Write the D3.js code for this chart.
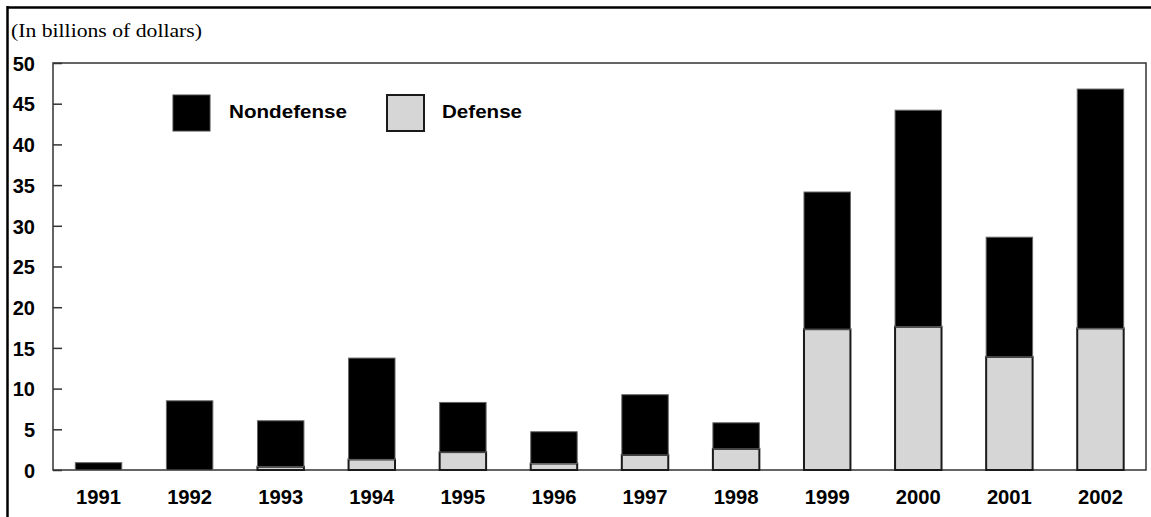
<!DOCTYPE html>
<html>
<head>
<meta charset="utf-8">
<script src="https://cdn.jsdelivr.net/npm/d3@7"></script>
<style>
  html, body { margin: 0; padding: 0; background: #fff; }
  svg { display: block; }
</style>
</head>
<body>
<svg id="chart" width="1151" height="517"></svg>
<script>
const years = ["1991","1992","1993","1994","1995","1996","1997","1998","1999","2000","2001","2002"];
const defense = [0, 0, 0.4, 1.3, 2.2, 0.8, 1.85, 2.6, 17.3, 17.6, 13.9, 17.4];
const nondefense = [0.9, 8.5, 5.65, 12.45, 6.1, 3.9, 7.4, 3.2, 16.85, 26.6, 14.7, 29.4];
const yTicks = [0, 5, 10, 15, 20, 25, 30, 35, 40, 45, 50];
const seriesNames = ["Nondefense", "Defense"];
const unitLabel = "(In billions of dollars)";

const svg = d3.select("#chart");
const plotL = 53, plotR = 1146, plotT = 63, plotB = 470;

const x = d3.scaleBand().domain(years).range([plotL, plotR]).paddingInner(0.49).paddingOuter(0.245);
const y = d3.scaleLinear().domain([0, 50]).range([plotB, plotT]);

// outer frame lines
svg.append("line").attr("x1", 7).attr("x2", 1151).attr("y1", 7.5).attr("y2", 7.5)
  .attr("stroke", "#000").attr("stroke-width", 2.5);
svg.append("line").attr("x1", 7.5).attr("x2", 7.5).attr("y1", 6).attr("y2", 517)
  .attr("stroke", "#000").attr("stroke-width", 2.5);

// unit label
svg.append("text").attr("x", 11).attr("y", 37)
  .attr("font-family", "'Liberation Serif', 'Times New Roman', serif")
  .attr("font-size", 19.5).attr("textLength", 191).attr("lengthAdjust", "spacingAndGlyphs")
  .attr("fill", "#000").text(unitLabel);

// plot frame
svg.append("rect").attr("x", plotL).attr("y", plotT).attr("width", plotR - plotL).attr("height", plotB - plotT)
  .attr("fill", "none").attr("stroke", "#333").attr("stroke-width", 1.5);

// y axis
const yAxis = d3.axisLeft(y).tickValues(yTicks).tickSize(-9).tickPadding(0).tickFormat(d3.format("d"));
const gy = svg.append("g").attr("transform", `translate(${plotL},0)`).call(yAxis);
gy.select(".domain").remove();
gy.selectAll(".tick line").attr("stroke", "#333").attr("stroke-width", 1.5);
gy.selectAll(".tick text")
  .attr("x", -18).attr("dy", "0.36em")
  .attr("font-family", "'Liberation Sans', Arial, sans-serif")
  .attr("font-weight", "bold").attr("font-size", 20).attr("fill", "#000");

// stacked bars
const rows = years.map((yr, i) => ({ year: yr, Defense: defense[i], Nondefense: nondefense[i] }));
const stack = d3.stack().keys(["Defense", "Nondefense"]);
const stacked = stack(rows);
const fills = { Defense: "#d6d6d6", Nondefense: "#000" };
const strokes = { Defense: "#1a1a1a", Nondefense: "#666" };
const sw = { Defense: 2, Nondefense: 1 };

stacked.forEach(s => {
  svg.append("g").selectAll("rect")
    .data(s.filter(d => d[1] - d[0] > 0))
    .join("rect")
    .attr("x", d => x(d.data.year))
    .attr("width", x.bandwidth())
    .attr("y", d => y(d[1]))
    .attr("height", d => y(d[0]) - y(d[1]))
    .attr("fill", fills[s.key])
    .attr("stroke", strokes[s.key])
    .attr("stroke-width", sw[s.key]);
});

// x axis labels
const xAxis = d3.axisBottom(x).tickSize(0).tickPadding(0);
const gx = svg.append("g").attr("transform", `translate(0,${plotB})`).call(xAxis);
gx.select(".domain").remove();
gx.selectAll(".tick text")
  .attr("y", 34).attr("dy", 0)
  .attr("font-family", "'Liberation Sans', Arial, sans-serif")
  .attr("font-weight", "bold").attr("font-size", 19.5).attr("fill", "#000")
  .attr("textLength", 45).attr("lengthAdjust", "spacingAndGlyphs");

// legend
const legend = [
  { name: seriesNames[0], sx: 173, tx: 229, tl: 118, fill: "#000", stroke: "#444", sw: 1 },
  { name: seriesNames[1], sx: 387, tx: 442, tl: 80, fill: "#d6d6d6", stroke: "#1a1a1a", sw: 2 }
];
const lg = svg.append("g");
legend.forEach(l => {
  lg.append("rect").attr("x", l.sx).attr("y", 95).attr("width", 37).attr("height", 36)
    .attr("fill", l.fill).attr("stroke", l.stroke).attr("stroke-width", l.sw);
  lg.append("text").attr("x", l.tx).attr("y", 118)
    .attr("font-family", "'Liberation Sans', Arial, sans-serif")
    .attr("font-weight", "bold").attr("font-size", 19).attr("fill", "#000")
    .attr("textLength", l.tl).attr("lengthAdjust", "spacingAndGlyphs")
    .text(l.name);
});
</script>
</body>
</html>
